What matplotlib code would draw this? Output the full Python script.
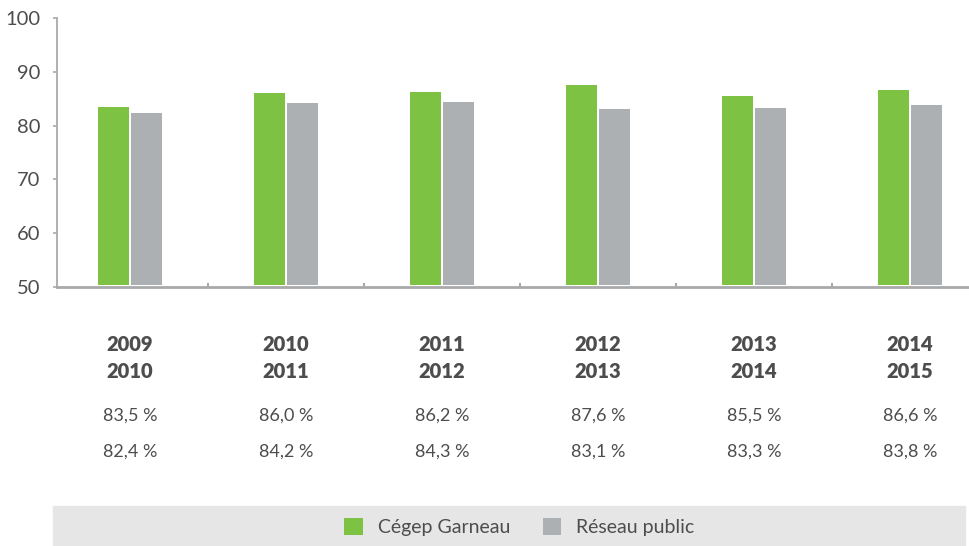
import matplotlib.pyplot as plt
import matplotlib.transforms as mtransforms
from matplotlib.patches import Rectangle

plt.rcParams['font.family'] = ['Lato', 'DejaVu Sans']

years = ['2009\n2010', '2010\n2011', '2011\n2012', '2012\n2013', '2013\n2014', '2014\n2015']
garneau = [83.5, 86.0, 86.2, 87.6, 85.5, 86.6]
reseau = [82.4, 84.2, 84.3, 83.1, 83.3, 83.8]
yticks = [50, 60, 70, 80, 90, 100]

green = '#7dc242'
grey = '#adb0b2'
txt = '#4d4d4d'
axcol = '#a7a9ab'

W, H = 969, 546
fig = plt.figure(figsize=(W / 100, H / 100), dpi=100)
ax = fig.add_axes([57 / W, 1 - 287 / H, (W - 57) / W, (287 - 18) / H])

x = list(range(len(years)))
bw = 0.2
ax.bar([i - 0.105 for i in x], [g - 50.3 for g in garneau], bw, bottom=50.3,
       color=green, label='Cégep Garneau')
ax.bar([i + 0.105 for i in x], [r - 50.3 for r in reseau], bw, bottom=50.3,
       color=grey, label='Réseau public')

ax.set_xlim(-0.468, 5.378)
ax.set_ylim(50, 100)
ax.set_yticks(yticks)
ax.set_xticks([i + 0.5 for i in x[:-1]])
ax.set_xticklabels([])
ax.tick_params(axis='x', direction='in', length=3, color=axcol, width=1.5)
ax.tick_params(axis='y', direction='out', length=3, color=axcol, width=1.2,
               labelsize=14.5, labelcolor=txt, pad=9)
for s in ['top', 'right']:
    ax.spines[s].set_visible(False)
ax.spines['left'].set_color(axcol)
ax.spines['left'].set_linewidth(1.3)
ax.spines['bottom'].set_color(axcol)
ax.spines['bottom'].set_linewidth(2)
ax.spines['bottom'].set_clip_on(False)

# labels under the chart
tr = mtransforms.blended_transform_factory(ax.transData, fig.transFigure)
for i in x:
    ax.text(i, 1 - 358 / H, years[i], transform=tr, ha='center', va='center',
            fontsize=14.5, fontweight='heavy', color=txt, linespacing=1.5)
    ax.text(i, 1 - 416 / H, f'{garneau[i]:.1f} %'.replace('.', ','), transform=tr,
            ha='center', va='center', fontsize=13, color=txt)
    ax.text(i, 1 - 452 / H, f'{reseau[i]:.1f} %'.replace('.', ','), transform=tr,
            ha='center', va='center', fontsize=13, color=txt)

# legend band
fig.patches.append(Rectangle((53 / W, 0), (965 - 53) / W, 40 / H,
                             transform=fig.transFigure, color='#e6e6e6', zorder=0))
fig.legend(loc='center', bbox_to_anchor=(0.536, 1 - 527 / H), ncol=2, frameon=False,
           fontsize=14, labelcolor=txt, handlelength=0.95, handleheight=0.95,
           handletextpad=0.75, columnspacing=1.7)

fig.savefig('out.png', dpi=100)
